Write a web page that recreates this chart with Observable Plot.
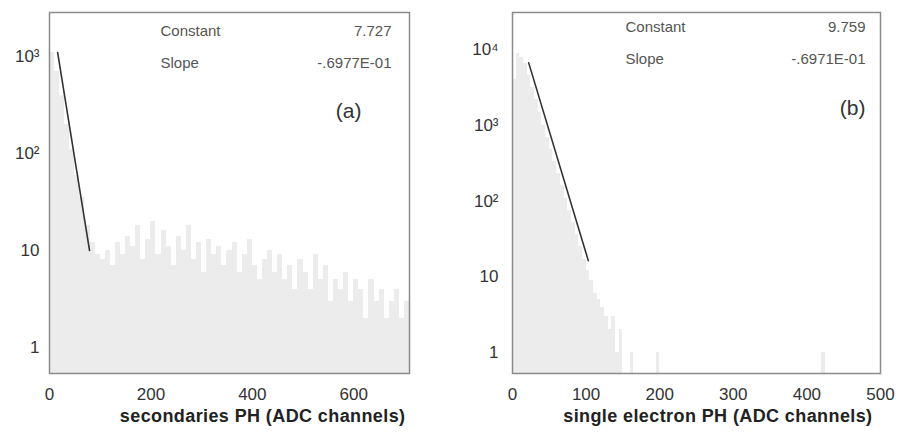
<!DOCTYPE html>
<html>
<head>
<meta charset="utf-8">
<script src="https://cdn.jsdelivr.net/npm/d3@7"></script>
<script src="https://cdn.jsdelivr.net/npm/@observablehq/plot@0.6"></script>
<style>
  html, body { margin: 0; padding: 0; background: #fff; overflow: hidden; }
  #wrap { position: relative; width: 898px; height: 439px; }
  #wrap > div { position: absolute; top: 0; }
  #left { left: 0; }
  #right { left: 449px; }
</style>
</head>
<body>
<div id="wrap"><div id="left"></div><div id="right"></div></div>
<script>
// ---------- Panel (a): secondaries PH ----------
const binWidthA = 10;
const binStartA = [0,10,20,30,40,50,60,70,80,90,100,110,120,130,140,150,160,170,180,190,200,210,220,230,240,250,260,270,280,290,300,310,320,330,340,350,360,370,380,390,400,410,420,430,440,450,460,470,480,490,500,510,520,530,540,550,560,570,580,590,600,610,620,630,640,650,660,670,680,690,700];
const countsA = [1100,700,400,200,110,60,35,18,12,9,8,10,7,12,9,14,11,18,8,13,20,9,16,11,7,14,10,18,8,12,6,13,9,11,7,10,12,6,9,13,7,5,8,10,6,9,5,7,4,8,6,4,9,5,7,3,5,4,6,3,5,4,2,5,3,4,2,3,4,2,3];
const fitAx = [16, 79];
const fitAy = [1100, 10];
const xDomainA = [0, 710];
const yDomainA = [0.54, 2840];
const xTicksA = [0, 200, 400, 600];
const yTicksA = [1, 10, 100, 1000];
const yTickLabelsA = ["1", "10", "10²", "10³"];
const statsNamesA = ["Constant", "Slope"];
const statsValuesA = ["7.727", "-.6977E-01"];
const panelLabelA = "(a)";
const xTitleA = "secondaries PH (ADC channels)";

// ---------- Panel (b): single electron PH ----------
const binWidthB = 5;
const binStartB = [0,5,10,15,20,25,30,35,40,45,50,55,60,65,70,75,80,85,90,95,100,105,110,115,120,125,130,135,140,145,160,195,420];
const countsB = [4000,9000,8000,6500,4500,3200,2200,1500,1000,700,480,330,230,160,110,75,52,36,25,17,12,9,6,5,4,3,2,3,1,2,1,1,1];
const fitBx = [22, 103];
const fitBy = [6700, 16.4];
const xDomainB = [0, 500];
const yDomainB = [0.53, 31000];
const xTicksB = [0, 100, 200, 300, 400, 500];
const yTicksB = [1, 10, 100, 1000, 10000];
const yTickLabelsB = ["1", "10", "10²", "10³", "10⁴"];
const statsNamesB = ["Constant", "Slope"];
const statsValuesB = ["9.759", "-.6971E-01"];
const panelLabelB = "(b)";
const xTitleB = "single electron PH (ADC channels)";

const FONT = "'Liberation Sans', Arial, Helvetica, sans-serif";

function build(o) {
  const bins = o.binStart.map((s, i) => ({x1: s, x2: s + o.binWidth, y: o.counts[i]}));
  const fit = o.fitX.map((x, i) => ({x, y: o.fitY[i]}));
  const labelOf = new Map(o.yTicks.map((t, i) => [t, o.yTickLabels[i]]));
  const rowMarks = [];
  o.statsNames.forEach((n, i) => {
    rowMarks.push(Plot.text([n], {frameAnchor: "top-left", text: d => d, dx: o.statsDx, dy: o.rowDy[i], fontSize: 15, fill: "#555", textAnchor: "start"}));
    rowMarks.push(Plot.text([o.statsValues[i]], {frameAnchor: "top-right", text: d => d, dx: o.valueDx, dy: o.rowDy[i], fontSize: 15, fill: "#555", textAnchor: "end"}));
  });
  return Plot.plot({
    width: 449,
    height: 439,
    marginLeft: o.marginLeft,
    marginRight: o.marginRight,
    marginTop: 12,
    marginBottom: 66,
    style: {fontFamily: FONT, background: "#fff", overflow: "visible"},
    x: {domain: o.xDomain, label: null},
    y: {type: "log", domain: o.yDomain, label: null},
    marks: [
      Plot.rect(bins, {x1: "x1", x2: "x2", y1: () => o.yDomain[0], y2: "y", fill: "#ececec", shapeRendering: "crispEdges", clip: true}),
      Plot.line(fit, {x: "x", y: "y", stroke: "#333", strokeWidth: 1.6}),
      Plot.frame({stroke: "#8a8a8a", strokeWidth: 1.5}),
      Plot.axisX({ticks: o.xTicks, tickSize: 0, tickPadding: 14, fontSize: 17, fill: "#333", label: null, tickFormat: d => String(d)}),
      Plot.axisY({ticks: o.yTicks, tickSize: 0, tickPadding: o.yPad, fontSize: 17, fill: "#333", label: null, tickFormat: d => labelOf.get(d)}),
      ...rowMarks,
      Plot.text([o.panelLabel], {frameAnchor: "top-right", text: d => d, dx: o.panelDx, dy: o.panelDy, fontSize: 21, fill: "#333", textAnchor: "end"}),
      Plot.text([o.xTitle], {frameAnchor: "bottom-right", text: d => d, dx: o.titleDx, dy: 48, fontSize: 18, fontWeight: "bold", fill: "#222", textAnchor: "end", style: "letter-spacing:0.4px"})
    ]
  });
}

const left = build({
  binStart: binStartA, binWidth: binWidthA, counts: countsA, fitX: fitAx, fitY: fitAy,
  xDomain: xDomainA, yDomain: yDomainA, xTicks: xTicksA, yTicks: yTicksA, yTickLabels: yTickLabelsA,
  statsNames: statsNamesA, statsValues: statsValuesA, panelLabel: panelLabelA, xTitle: xTitleA,
  marginLeft: 49, marginRight: 40, yPad: 10, statsDx: 111, valueDx: -18, rowDy: [13, 45],
  panelDx: -48, panelDy: 91, titleDx: -4
});
const right = build({
  binStart: binStartB, binWidth: binWidthB, counts: countsB, fitX: fitBx, fitY: fitBy,
  xDomain: xDomainB, yDomain: yDomainB, xTicks: xTicksB, yTicks: yTicksB, yTickLabels: yTickLabelsB,
  statsNames: statsNamesB, statsValues: statsValuesB, panelLabel: panelLabelB, xTitle: xTitleB,
  marginLeft: 63, marginRight: 18, yPad: 14, statsDx: 113, valueDx: -15, rowDy: [9, 41],
  panelDx: -15, panelDy: 88, titleDx: -8
});
for (const svg of [left, right]) {
  svg.querySelectorAll("text").forEach(t => {
    if (t.textContent && /channels/.test(t.textContent)) t.setAttribute("letter-spacing", "0.4");
  });
}
document.getElementById("left").append(left);
document.getElementById("right").append(right);
</script>
</body>
</html>
